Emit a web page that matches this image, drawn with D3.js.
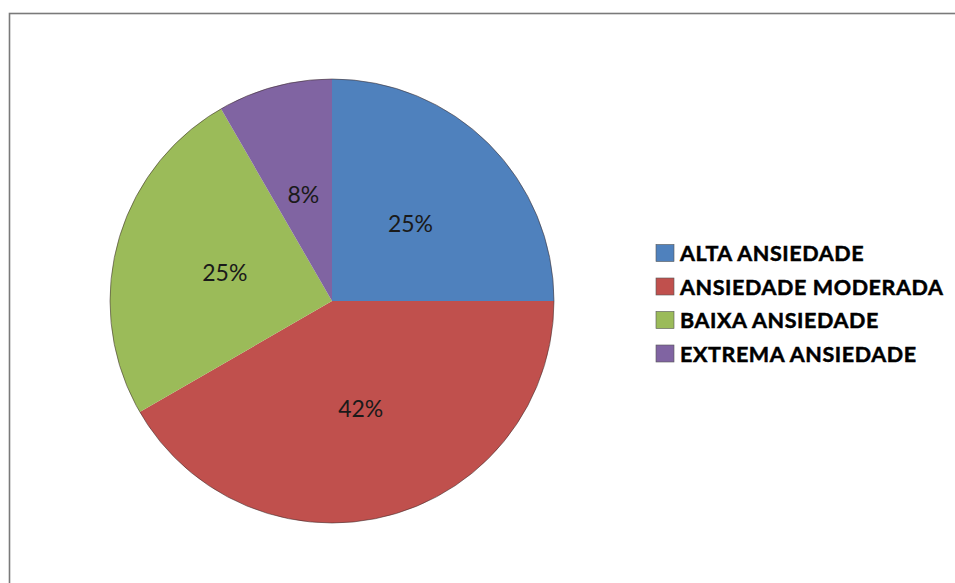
<!DOCTYPE html>
<html>
<head>
<meta charset="utf-8">
<script src="https://cdn.jsdelivr.net/npm/d3@7/dist/d3.min.js"></script>
<style>
  html, body { margin: 0; padding: 0; background: #ffffff; }
  svg { display: block; }
</style>
</head>
<body>
<svg id="chart" width="955" height="583"></svg>
<script>
// Anxiety levels and their share of respondents
const categories = ["ALTA ANSIEDADE", "ANSIEDADE MODERADA", "BAIXA ANSIEDADE", "EXTREMA ANSIEDADE"];
const values = [3, 5, 3, 1];
const percentLabels = ["25%", "42%", "25%", "8%"];
const colors = ["#4F81BD", "#C0504D", "#9BBB59", "#8064A2"];

const svg = d3.select("#chart");
const W = 955, H = 583;

// chart area frame
svg.append("rect")
  .attr("x", 9.5).attr("y", 13.5)
  .attr("width", W + 10).attr("height", H + 10)
  .attr("fill", "#ffffff")
  .attr("stroke", "#7a7a7a")
  .attr("stroke-width", 1.6);

const cx = 332, cy = 301, radius = 222;

const pie = d3.pie().sort(null).value(d => d.value);
const arcs = pie(categories.map((c, i) => ({ cat: c, value: values[i], label: percentLabels[i], color: colors[i] })));

const arc = d3.arc().innerRadius(0).outerRadius(radius);
const labelArc = d3.arc().innerRadius(radius / 2).outerRadius(radius / 2);

const g = svg.append("g").attr("transform", `translate(${cx},${cy})`);

g.selectAll("path.slice")
  .data(arcs)
  .enter().append("path")
  .attr("class", "slice")
  .attr("d", arc)
  .attr("fill", d => d.data.color);

// soft dark rim around the pie
g.append("circle")
  .attr("r", radius)
  .attr("fill", "none")
  .attr("stroke", "#3a2a2a")
  .attr("stroke-width", 1)
  .attr("stroke-opacity", 0.55);

g.selectAll("text.pct")
  .data(arcs)
  .enter().append("text")
  .attr("class", "pct")
  .attr("transform", d => `translate(${labelArc.centroid(d)})`)
  .attr("text-anchor", "middle")
  .attr("dominant-baseline", "central")
  .attr("font-family", "Lato, 'Open Sans', sans-serif")
  .attr("font-size", 23)
  .attr("fill", "#1a1a1a")
  .text(d => d.data.label);

// legend
const legendX = 656, legendY0 = 253, legendStep = 33.5;
const legend = svg.append("g");
const items = legend.selectAll("g.item")
  .data(categories)
  .enter().append("g")
  .attr("class", "item")
  .attr("transform", (d, i) => `translate(${legendX},${legendY0 + i * legendStep})`);

items.append("rect")
  .attr("x", 0).attr("y", -8.5)
  .attr("width", 18).attr("height", 17)
  .attr("fill", (d, i) => colors[i])
  .attr("stroke", "#555")
  .attr("stroke-width", 0.6);

items.append("text")
  .attr("x", 24)
  .attr("y", 0)
  .attr("dominant-baseline", "central")
  .attr("font-family", "Lato, 'Open Sans', sans-serif")
  .attr("font-weight", "bold")
  .attr("font-size", 21.5)
  .attr("letter-spacing", 0.6)
  .attr("stroke", "#000")
  .attr("stroke-width", 0.5)
  .attr("fill", "#000")
  .text(d => d);
</script>
</body>
</html>
